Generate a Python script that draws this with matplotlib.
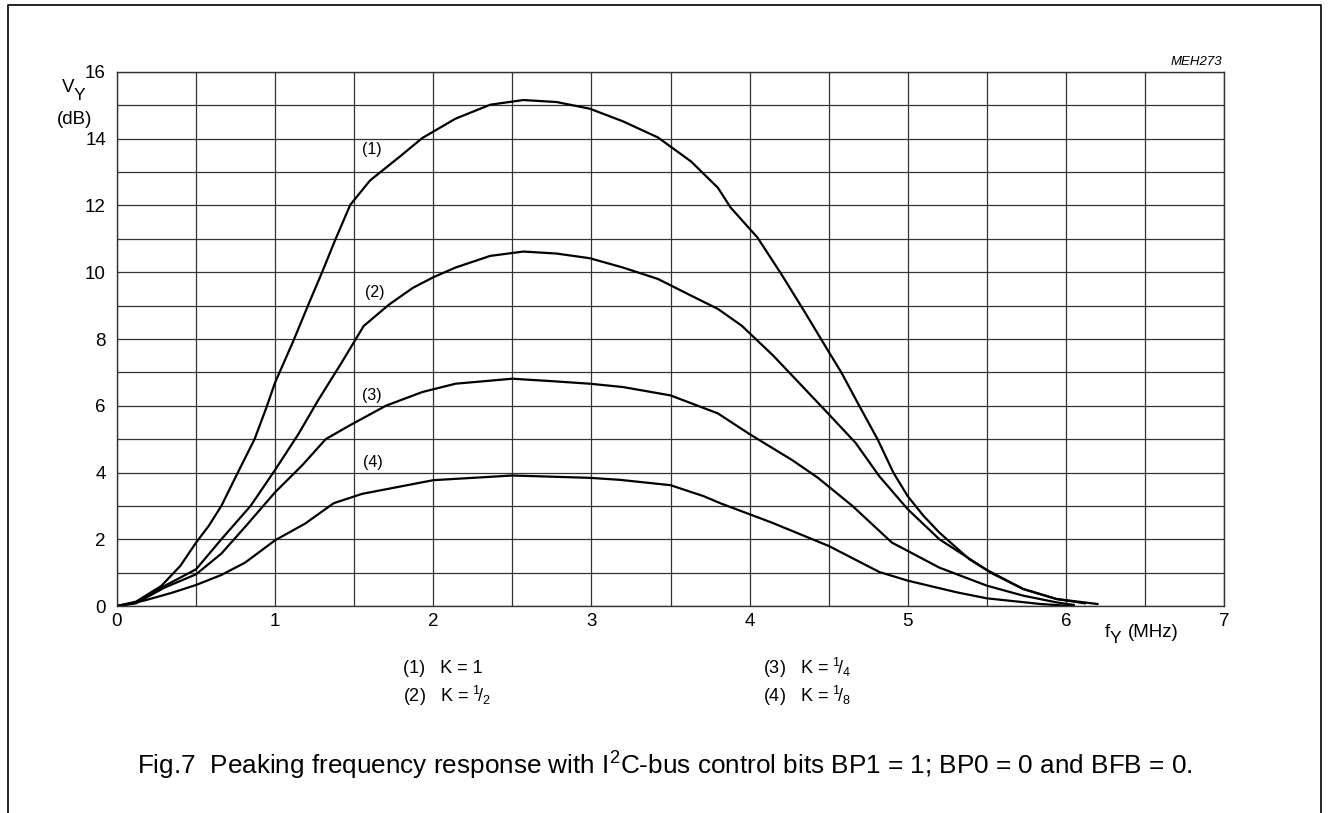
import matplotlib
matplotlib.use("Agg")
import matplotlib.pyplot as plt
from matplotlib.lines import Line2D

plt.rcParams['font.family'] = ['Liberation Sans', 'DejaVu Sans']
plt.rcParams['mathtext.fontset'] = 'custom'
plt.rcParams['mathtext.rm'] = 'Liberation Sans'
plt.rcParams['mathtext.it'] = 'Liberation Sans:italic'

# curve data: f_Y (MHz), V_Y (dB)
x1 = [0, 0.12, 0.28, 0.4, 0.5, 0.58, 0.66, 0.76, 0.87, 0.945, 1.0, 1.115, 1.21, 1.295, 1.38, 1.475,
      1.6, 1.8, 1.93, 2.14, 2.36, 2.57, 2.78, 2.99, 3.2, 3.42, 3.63, 3.8, 3.88, 4.05,
      4.2, 4.35, 4.5, 4.58, 4.69, 4.81, 4.91, 5.0, 5.1, 5.2, 5.39, 5.54, 5.73, 5.94, 6.2]
y1 = [0, 0.13, 0.6, 1.2, 1.9, 2.4, 3.0, 3.96, 5.0, 5.95, 6.7, 7.94, 9.03, 9.98, 10.97, 12.02,
      12.75, 13.51, 14.02, 14.6, 15.02, 15.16, 15.1, 14.9, 14.52, 14.04, 13.32, 12.53, 11.94, 11.04,
      9.95, 8.8, 7.62, 7.0, 6.03, 4.99, 3.99, 3.29, 2.7, 2.2, 1.4, 0.96, 0.51, 0.21, 0.06]

x2 = [0, 0.12, 0.3, 0.5, 0.66, 0.845, 1.0, 1.147, 1.27, 1.42, 1.56, 1.72, 1.87, 2.0,
      2.14, 2.36, 2.57, 2.78, 2.99, 3.2, 3.42, 3.63, 3.8, 3.95, 4.15, 4.35, 4.5, 4.67,
      4.82, 5.0, 5.2, 5.5, 5.73, 5.94, 6.12]
y2 = [0, 0.1, 0.6, 1.1, 2.0, 3.0, 4.08, 5.15, 6.15, 7.29, 8.39, 9.03, 9.53, 9.85,
      10.14, 10.49, 10.62, 10.56, 10.42, 10.14, 9.8, 9.3, 8.9, 8.4, 7.5, 6.5, 5.75, 4.89,
      3.89, 2.9, 2.0, 1.08, 0.51, 0.21, 0.08]

x3 = [0, 0.12, 0.3, 0.5, 0.66, 0.81, 1.0, 1.17, 1.32, 1.475, 1.7, 1.93, 2.14, 2.5,
      2.74, 2.99, 3.2, 3.5, 3.8, 4.0, 4.27, 4.43, 4.65, 4.9, 5.2, 5.5, 5.73, 5.94, 6.05]
y3 = [0, 0.08, 0.55, 0.95, 1.57, 2.37, 3.41, 4.21, 5.0, 5.42, 6.0, 6.41, 6.66, 6.81,
      6.74, 6.66, 6.56, 6.31, 5.77, 5.15, 4.37, 3.85, 3.0, 1.9, 1.15, 0.61, 0.31, 0.11, 0.03]

x4 = [0, 0.17, 0.35, 0.5, 0.66, 0.81, 1.0, 1.19, 1.37, 1.55, 2.0, 2.5, 2.99, 3.18, 3.5,
      3.71, 3.82, 4.14, 4.5, 4.82, 5.0, 5.31, 5.5, 5.84, 6.03]
y4 = [0, 0.16, 0.4, 0.63, 0.93, 1.3, 1.97, 2.47, 3.08, 3.36, 3.77, 3.91, 3.84, 3.78, 3.62,
      3.29, 3.07, 2.5, 1.8, 1.02, 0.76, 0.41, 0.23, 0.06, 0.0]

curve_labels = ['(1)', '(2)', '(3)', '(4)']
label_x = [1.61, 1.63, 1.61, 1.62]
label_y = [13.67, 9.4, 6.32, 4.31]

xticks = [0, 1, 2, 3, 4, 5, 6, 7]
yticks = [0, 2, 4, 6, 8, 10, 12, 14, 16]

key_left = ['(1)   K = 1', r'(2)   K = $^{1}\!/_{2}$']
key_right = [r'(3)   K = $^{1}\!/_{4}$', r'(4)   K = $^{1}\!/_{8}$']

fig = plt.figure(figsize=(13.29, 8.13), dpi=100)
ax = fig.add_axes([117 / 1329, 1 - 606 / 813, (1224 - 117) / 1329, (606 - 72) / 813])

for xs, ys in [(x1, y1), (x2, y2), (x3, y3), (x4, y4)]:
    ax.plot(xs, ys, color='black', lw=1.6, solid_joinstyle='round')

for lab, lx, ly in zip(curve_labels, label_x, label_y):
    ax.text(lx, ly, lab, fontsize=11.5, ha='center', va='center')

ax.set_xlim(0, 7)
ax.set_ylim(0, 16)
ax.set_xticks([i * 0.5 for i in range(15)], minor=True)
ax.set_yticks(range(17), minor=True)
ax.set_xticks(xticks)
ax.set_yticks(yticks)
ax.set_xticklabels([str(t) for t in xticks])
ax.set_yticklabels([str(t) for t in yticks])
ax.grid(which='both', color='#333333', lw=0.9)
ax.set_axisbelow(True)
ax.tick_params(which='both', length=0, labelsize=13.5)
ax.tick_params(axis='x', pad=5)
ax.tick_params(axis='y', pad=8)
for s in ax.spines.values():
    s.set_linewidth(1.0)
    s.set_color('#333333')

# axis labels placed as in the datasheet
fig.text(62 / 1329, 1 - 88 / 813, 'V', fontsize=13.5, ha='left', va='center')
fig.text(74 / 1329, 1 - 96 / 813, 'Y', fontsize=12.5, ha='left', va='center')
fig.text(57 / 1329, 1 - 120 / 813, '(dB)', fontsize=13.5, ha='left', va='center')
fig.text(1105 / 1329, 1 - 632 / 813, 'f', fontsize=13.5, ha='left', va='center')
fig.text(1110 / 1329, 1 - 638 / 813, 'Y', fontsize=12.5, ha='left', va='center')
fig.text(1128 / 1329, 1 - 632 / 813, '(MHz)', fontsize=13.5, ha='left', va='center')
fig.text(1222 / 1329, 1 - 62 / 813, 'MEH273', fontsize=9.5, style='italic', ha='right', va='center')

# key
for i, t in enumerate(key_left):
    fig.text(403 / 1329, 1 - (668 + 28 * i) / 813, t, fontsize=13, ha='left', va='center')
for i, t in enumerate(key_right):
    fig.text(763 / 1329, 1 - (668 + 28 * i) / 813, t, fontsize=13, ha='left', va='center')

fig.text(665 / 1329, 1 - 766 / 813,
         r'Fig.7  Peaking frequency response with I$^{2}$C-bus control bits BP1 = 1; BP0 = 0 and BFB = 0.',
         fontsize=18.8, ha='center', va='center')

# outer frame, open at the bottom
fl, fr, ft = 7.5 / 1329, 1321 / 1329, 1 - 5 / 813
fig.add_artist(Line2D([fl, fl, fr, fr], [0, ft, ft, 0], transform=fig.transFigure,
                      color='black', lw=1.2))

fig.savefig('out.png', dpi=100)
